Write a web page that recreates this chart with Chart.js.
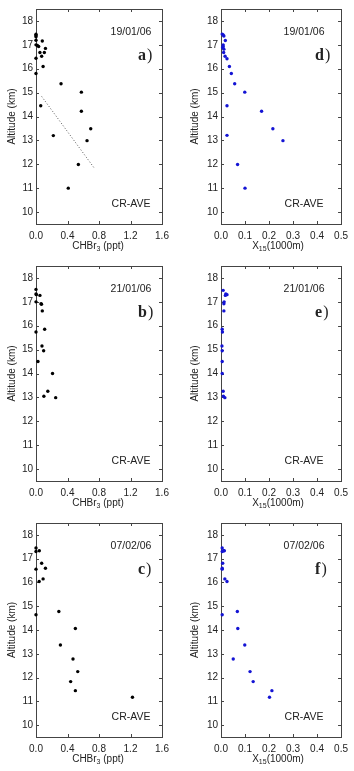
<!DOCTYPE html>
<html><head><meta charset="utf-8">
<script src="https://cdn.jsdelivr.net/npm/chart.js@4.4.1/dist/chart.umd.min.js"></script>
<style>
html,body{margin:0;padding:0;background:#fff;width:354px;height:771px;overflow:hidden}
.p{position:absolute;width:177px;height:257px}
</style></head><body>
<div class="p" style="left:0;top:0"><canvas id="ca"></canvas></div>
<div class="p" style="left:177px;top:0"><canvas id="cd"></canvas></div>
<div class="p" style="left:0;top:257px"><canvas id="cb"></canvas></div>
<div class="p" style="left:177px;top:257px"><canvas id="ce"></canvas></div>
<div class="p" style="left:0;top:514px"><canvas id="cc"></canvas></div>
<div class="p" style="left:177px;top:514px"><canvas id="cf"></canvas></div>
<script>
// ---- data ----
const altTicks = [10,11,12,13,14,15,16,17,18];
const chbrTicks = [0,0.4,0.8,1.2,1.6];
const x15Ticks = [0,0.1,0.2,0.3,0.4,0.5];

// panel a: 19/01/06 CHBr3 (ppt)
const chbrA = [0,0,0,0,0.08,0,0.017,0.034,0.12,0.05,0.106,0.072,0,0.09,0,0.318,0.576,0.06,0.576,0.695,0.22,0.648,0.538,0.41];
const altA  = [17.44,17.39,17.34,17.19,17.16,17.0,16.97,16.93,16.85,16.68,16.68,16.52,16.44,16.09,15.8,15.37,15.02,14.45,14.22,13.49,13.2,12.99,11.99,11.0];
const fitX = [0.072,0.74];
const fitY = [14.84,11.84];
// panel d: 19/01/06 X15
const x15D = [0.005,0.009,0.012,0.018,0.009,0.009,0.007,0.012,0.011,0.017,0.025,0.035,0.043,0.057,0.099,0.025,0.169,0.216,0.025,0.258,0.069,0.1];
const altD = [17.45,17.41,17.37,17.18,17.0,16.93,16.89,16.82,16.68,16.52,16.42,16.09,15.8,15.37,15.02,14.45,14.22,13.49,13.21,12.99,11.99,11.0];
// panel b: 21/01/06 CHBr3
const chbrB = [0,0,0.005,0.05,0,0.064,0.07,0.08,0.11,0,0.076,0.097,0.025,0.21,0.15,0.10,0.25];
const altB  = [17.52,17.33,17.3,17.27,17.0,16.92,16.9,16.62,15.85,15.74,15.15,14.95,14.5,14.0,13.26,13.05,12.99];
// panel e: 21/01/06 X15
const x15E = [0.009,0.02,0.025,0.018,0.013,0.012,0.012,0.005,0.006,0.004,0.005,0.005,0.005,0.009,0.01,0.016];
const altE = [17.48,17.33,17.3,17.27,17.0,16.92,16.62,15.85,15.74,15.15,14.95,14.5,14.0,13.26,13.05,12.99];
// panel c: 07/02/06 CHBr3
const chbrC = [0,0,0.042,0.072,0.12,0,0.09,0.04,0.29,0,0.5,0.31,0.47,0.53,0.44,0.5,1.225];
const altC  = [17.45,17.3,17.33,16.81,16.6,16.56,16.15,16.04,14.78,14.64,14.06,13.37,12.78,12.25,11.83,11.45,11.17];
// panel f: 07/02/06 X15
const x15F = [0.005,0.01,0.014,0.005,0.007,0.005,0.005,0.016,0.025,0.068,0.005,0.07,0.099,0.051,0.121,0.134,0.212,0.202];
const altF = [17.45,17.33,17.33,17.3,16.81,16.6,16.56,16.15,16.04,14.78,14.64,14.06,13.37,12.78,12.25,11.83,11.45,11.17];

const FONT = "'Liberation Sans', Arial, sans-serif";
const pts = (xs, ys) => xs.map((x,i)=>({x, y: ys[i]}));

function frameAndText(opts){
  return {
    id:'frame',
    beforeDatasetsDraw(chart){
      const ctx = chart.ctx, a = chart.chartArea;
      const xs = chart.scales.x, ys = chart.scales.y;
      ctx.save();
      ctx.strokeStyle = '#444'; ctx.lineWidth = 1;
      ctx.strokeRect(Math.round(a.left)+0.5, Math.round(a.top)+0.5, Math.round(a.right-a.left), Math.round(a.bottom-a.top));
      ctx.beginPath();
      opts.yticks.forEach(v=>{ const y=Math.round(ys.getPixelForValue(v))+0.5;
        ctx.moveTo(a.left, y); ctx.lineTo(a.left+3, y);
        ctx.moveTo(a.right, y); ctx.lineTo(a.right-3, y); });
      opts.xticks.forEach(v=>{ const x=Math.round(xs.getPixelForValue(v))+0.5;
        ctx.moveTo(x, a.bottom); ctx.lineTo(x, a.bottom-3);
        ctx.moveTo(x, a.top); ctx.lineTo(x, a.top+3); });
      ctx.stroke();
      ctx.restore();
    },
    afterDraw(chart){
      const ctx = chart.ctx, a = chart.chartArea;
      ctx.save();
      ctx.fillStyle = '#222';
      ctx.font = '10.5px ' + FONT;
      ctx.textAlign = 'center'; ctx.textBaseline = 'middle';
      ctx.fillText(opts.date, a.right - opts.dateDx, a.top + 23);
      ctx.fillText('CR-AVE', a.right - opts.dateDx, a.bottom - 20);
      ctx.textAlign = 'left'; ctx.textBaseline = 'alphabetic';
      ctx.font = 'bold 16px "Liberation Serif", "DejaVu Serif", serif';
      const lw = ctx.measureText(opts.letter).width;
      const lx = a.right - opts.letterDx;
      ctx.fillText(opts.letter, lx, a.top + 51);
      ctx.font = '16px "Liberation Serif", "DejaVu Serif", serif';
      ctx.fillText(')', lx + lw + 1, a.top + 51);
      ctx.textBaseline = 'middle';
      const cx = (a.left + a.right)/2, ty = a.bottom + 22;
      const parts = opts.xtitle;
      let total = 0;
      parts.forEach(p=>{ ctx.font = (p[1]?'7px ':'10px ') + FONT; total += ctx.measureText(p[0]).width; });
      let x = cx - total/2 + opts.titleDx;
      ctx.textAlign = 'left';
      parts.forEach(p=>{ ctx.font = (p[1]?'7px ':'10px ') + FONT;
        ctx.fillText(p[0], x, ty + (p[1]?3:0)); x += ctx.measureText(p[0]).width; });
      ctx.save();
      ctx.translate(opts.ytitleX, (a.top + a.bottom)/2);
      ctx.rotate(-Math.PI/2);
      ctx.textAlign = 'center'; ctx.font = '10px ' + FONT;
      ctx.fillText('Altitude (km)', 0, 0);
      ctx.restore();
      ctx.restore();
    }
  };
}

function makeChart(id, cfg){
  const isLeft = cfg.side === 'left';
  const datasets = [{
    type:'scatter', data: pts(cfg.xs, cfg.ys), backgroundColor: cfg.color, borderColor: cfg.color,
    pointRadius: 1.7, pointHoverRadius: 1.7, borderWidth: 0, clip: false
  }];
  if (cfg.fit) datasets.push({
    type:'line', data: pts(cfg.fit[0], cfg.fit[1]), borderColor:'#555', borderWidth:1,
    borderDash:[1,2], pointRadius:0, fill:false, tension:0
  });
  new Chart(document.getElementById(id), {
    type:'scatter',
    data:{datasets},
    options:{
      responsive:true, maintainAspectRatio:false, animation:false, devicePixelRatio:1,
      events:[],
      layout:{padding:{top:cfg.top, right: isLeft?15:4, bottom:0, left:0}},
      plugins:{legend:{display:false}, tooltip:{enabled:false}},
      scales:{
        x:{type:'linear', min:0, max:cfg.xmax,
          afterBuildTicks: s=>{ s.ticks = cfg.xticks.map(v=>({value:v})); },
          afterFit: s=>{ s.height = cfg.xh; },
          grid:{display:false, drawTicks:false}, border:{display:false},
          ticks:{padding:6, color:'#222', font:{family:FONT, size:10}, maxRotation:0, autoSkip:false,
            callback:v=>Number(v).toFixed(1)}
        },
        y:{type:'linear', min:9.5, max:18.5,
          afterBuildTicks: s=>{ s.ticks = altTicks.map(v=>({value:v})); },
          afterFit: s=>{ s.width = isLeft?36:44; },
          grid:{display:false, drawTicks:false}, border:{display:false},
          ticks:{padding:3, color:'#222', font:{family:FONT, size:10}, autoSkip:false,
            callback:v=>String(v)}
        }
      }
    },
    plugins:[frameAndText({
      yticks: altTicks, xticks: cfg.xticks, date: cfg.date, letter: cfg.letter,
      dateDx: isLeft?31:37, letterDx: isLeft?24:26, titleDx: isLeft?-1:-3,
      ytitleX: isLeft?12:18,
      xtitle: isLeft ? [['CHBr',0],['3',1],[' (ppt)',0]] : [['X',0],['15',1],['(1000m)',0]]
    })]
  });
}

makeChart('ca',{side:'left', xs:chbrA, ys:altA, fit:[fitX,fitY], color:'#000', xmax:1.6, xticks:chbrTicks, date:'19/01/06', letter:'a', top:9, xh:33});
makeChart('cd',{side:'right', xs:x15D, ys:altD, color:'#1414d4', xmax:0.5, xticks:x15Ticks, date:'19/01/06', letter:'d', top:9, xh:33});
makeChart('cb',{side:'left', xs:chbrB, ys:altB, color:'#000', xmax:1.6, xticks:chbrTicks, date:'21/01/06', letter:'b', top:9, xh:33});
makeChart('ce',{side:'right', xs:x15E, ys:altE, color:'#1414d4', xmax:0.5, xticks:x15Ticks, date:'21/01/06', letter:'e', top:9, xh:33});
makeChart('cc',{side:'left', xs:chbrC, ys:altC, color:'#000', xmax:1.6, xticks:chbrTicks, date:'07/02/06', letter:'c', top:8, xh:34});
makeChart('cf',{side:'right', xs:x15F, ys:altF, color:'#1414d4', xmax:0.5, xticks:x15Ticks, date:'07/02/06', letter:'f', top:8, xh:34});
</script>
</body></html>
